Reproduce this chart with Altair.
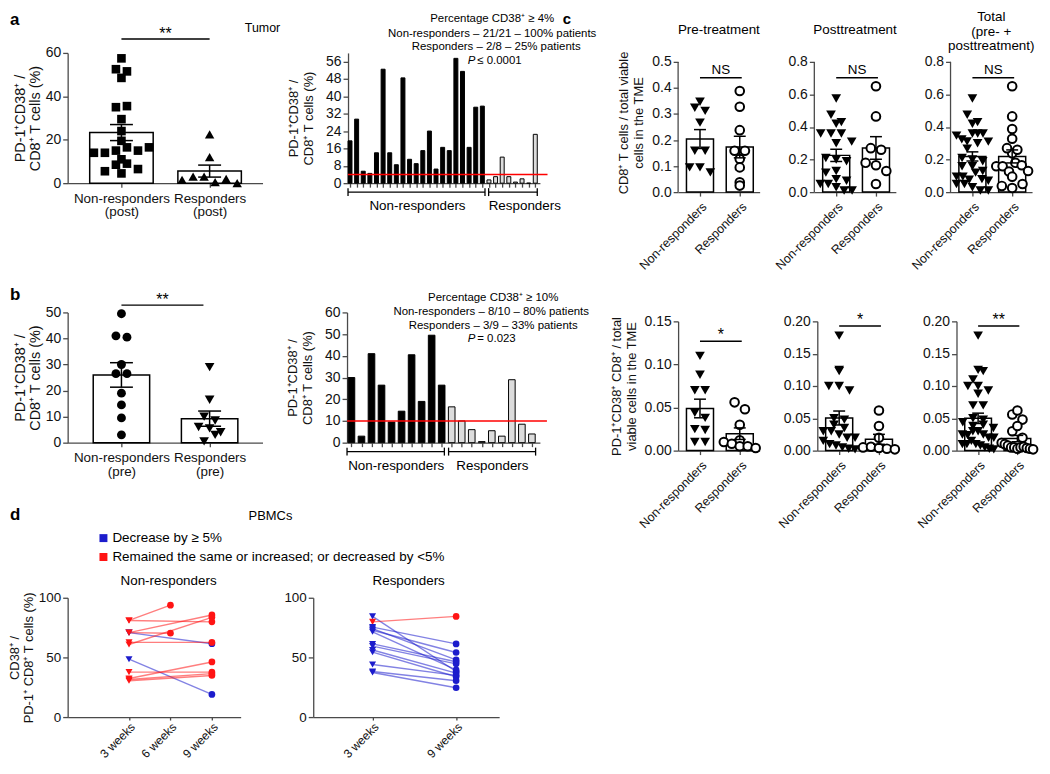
import json
import altair as alt
import pandas as pd

FONT = "Liberation Sans"
ONE = pd.DataFrame({"k": [0]})
P = "\u207a"  # superscript plus
AXIS_GREY = "#4a4a4a"

# ---------------- data ----------------
# a: PD-1+CD38+ / CD8+ T cells (%), tumour, post-treatment (per patient)
A_NONRESP = [19.5, 29.5, 5.5, 4.5, 14, 52.5, 14, 8.5, 48.5, 11, 9, 15, 24, 6.5, 16.5, 15, 57.5, 51.5, 16.5, 35, 35.5]
A_RESP = [1.5, 3, 12, 3, 0.5, 2, 0, 22.5]
# b: same, pre-treatment
B_NONRESP = [30, 3, 41, 26.5, 9.5, 14.5, 40.5, 19, 49.5, 26.5]
B_RESP = [16.5, 10, 6, 0.5, 5.5, 3, 29, 8.5, 4]
# c, top row: CD8+ T cells / total viable cells in the TME
CT_PRE_NONRESP = [0.347, 0.324, 0.312, 0.267, 0.159, 0.159, 0.095, 0.095, 0.076]
CT_PRE_RESP = [0.388, 0.328, 0.238, 0.159, 0.159, 0.127, 0.095, 0.038, 0.025]
CT_POST_NONRESP = [0.575, 0.475, 0.43, 0.42, 0.36, 0.36, 0.36, 0.31, 0.30, 0.21, 0.20,
                   0.19, 0.13, 0.12, 0.08, 0.07, 0.05, 0.05, 0.03, 0.01, 0.01]
CT_POST_RESP = [0.65, 0.465, 0.27, 0.26, 0.18, 0.165, 0.13, 0.05]
# c, bottom row: PD-1+CD38+CD8+ / total viable cells in the TME
CB_PRE_NONRESP = [0.11, 0.088, 0.07, 0.07, 0.044, 0.038, 0.025, 0.024, 0.01, 0.01]
CB_PRE_RESP = [0.056, 0.048, 0.03, 0.012, 0.01, 0.008, 0.005, 0.005, 0.003]
CB_POST_NONRESP = [0.178, 0.125, 0.123, 0.10, 0.10, 0.093, 0.05, 0.048, 0.04, 0.035, 0.03,
                   0.03, 0.025, 0.02, 0.02, 0.015, 0.01, 0.008, 0.005, 0.003, 0.002]
CB_POST_RESP = [0.062, 0.038, 0.02, 0.005, 0.006, 0.004, 0.003, 0.002]
# d: PBMCs, CD38+ / PD-1+CD8+ T cells (%)
D_NR_WEEK3 = [81, 81, 70.8, 70.8, 70.8, 62.6, 60.8, 48.5, 37.7, 32.3, 31.5, 30.5]
D_NR_LATER = [93.8, 79.8, 85.6, 61.5, 70.3, 62.6, 83.6, 19, 37.7, 46.2, 36.4, 34.9]
D_NR_LATER_WEEK = [6, 9, 9, 9, 6, 9, 9, 9, 9, 9, 9, 9]
D_NR_CLASS = ["inc", "inc", "inc", "dec", "inc", "inc", "inc", "dec", "inc", "inc", "inc", "inc"]
D_R_WEEK3 = [84.4, 79.8, 75.4, 74.1, 72.8, 71.5, 61.3, 59.5, 56.2, 54.4, 44.1, 38.2, 37.4]
D_R_WEEK9 = [38.2, 84.4, 61.3, 47.9, 54.1, 39.5, 46.4, 44.6, 36.9, 33.8, 35, 30.5, 24.6]
D_R_LATER_WEEK = [9] * 13
D_R_CLASS = ["dec", "inc"] + ["dec"] * 11

DEC = "Decrease by \u2265 5%"
INC = "Remained the same or increased; or decreased by <5%"


# ---------------- helpers ----------------
def txt(text, x, y, size=12.0, align="center", baseline="middle", weight="normal",
        style="normal", line_height=None):
    props = dict(text=text, font=FONT, fontSize=size, align=align, baseline=baseline,
                 fontWeight=weight, fontStyle=style, color="black")
    if line_height is not None:
        props["lineHeight"] = line_height
    return alt.Chart(ONE).mark_text(**props).encode(x=alt.value(x), y=alt.value(y))


def pin_box(left, right, top, bottom=None):
    """Invisible rules that pin the panel's bounding box (relative to the plot area)."""
    rules = [alt.Chart(ONE).mark_rule(opacity=0).encode(
        x=alt.value(left), x2=alt.value(right), y=alt.value(top))]
    if bottom is not None:
        rules.append(alt.Chart(ONE).mark_rule(opacity=0).encode(
            x=alt.value(left), x2=alt.value(right), y=alt.value(bottom)))
    return rules


def y_axis(values, title, title_size, title_pad, fmt=None, line_height=15, domain=True,
           label_size=14):
    kw = dict(values=values, title=title, titleFontSize=title_size, titlePadding=title_pad,
              titleLineHeight=line_height, tickSize=5, labelFontSize=label_size, labelPadding=2,
              grid=False, labelFlush=False, labelOverlap=False, domain=domain)
    if fmt:
        kw["format"] = fmt
    return alt.Axis(**kw)


def dot_panel(nonresp, resp, *, w, h, xdom, ydom, yvals, yfmt, ytitle, ytitle_size, ytitle_pad,
              xlabels, xangle, xlab_size, bar_half, cap_half, marks, ybin, xspace, maxhalf,
              sig, extras, box, ytop=None):
    df = pd.DataFrame({"g": [0] * len(nonresp) + [1] * len(resp),
                       "v": list(nonresp) + list(resp)})
    XS = alt.Scale(domain=xdom, nice=False, zero=False)
    YS = alt.Scale(domain=ydom, nice=False, zero=False)
    expr = f"datum.value == 0 ? {json.dumps(xlabels[0])} : {json.dumps(xlabels[1])}"
    if xangle == 0:
        xax = alt.Axis(values=[0, 1], labelExpr=expr, title=None, tickSize=4,
                       labelFontSize=xlab_size, labelPadding=4, labelAngle=0,
                       labelAlign="center", labelBaseline="top", labelLineHeight=14,
                       grid=False, labelFlush=False, labelOverlap=False)
    else:
        xax = alt.Axis(values=[0, 1], labelExpr=expr, title=None, tickSize=4,
                       labelFontSize=xlab_size, labelPadding=4, labelAngle=xangle,
                       labelAlign="right", labelBaseline="top", grid=False,
                       labelFlush=False, labelOverlap=False)
    yax = y_axis(yvals, ytitle, ytitle_size, ytitle_pad, yfmt, domain=(ytop is None))

    def X(f):
        return alt.X(f, scale=XS, axis=xax)

    def Y(f):
        return alt.Y(f, scale=YS, axis=yax)

    base = alt.Chart(df)
    stats = base.transform_aggregate(
        m="mean(v)", se="stderr(v)", groupby=["g"]
    ).transform_calculate(
        x0=f"datum.g - {bar_half}", x1=f"datum.g + {bar_half}",
        lo="datum.m - datum.se", hi="datum.m + datum.se",
        c0=f"datum.g - {cap_half}", c1=f"datum.g + {cap_half}")
    layers = [stats.mark_bar(fill="white", stroke="black", strokeWidth=1.5).encode(
        x=X("x0:Q"), x2="x1:Q", y=Y("m:Q"), y2=alt.Y2Datum(0))]
    if ytop is not None:
        # y-axis line that stops at the top tick (the plot area extends a little higher)
        layers.append(alt.Chart(ONE).mark_rule(color=AXIS_GREY, strokeWidth=1.3).encode(
            x=alt.value(0), y=alt.YDatum(0, scale=YS, axis=yax), y2=alt.Y2Datum(ytop)))
    pts = base.transform_calculate(
        b=f"floor(datum.v / {ybin})"
    ).transform_window(
        k="row_number()", groupby=["g", "b"]
    ).transform_joinaggregate(
        n="count()", groupby=["g", "b"]
    ).transform_calculate(
        jx=(f"datum.g + (datum.k - 1 - (datum.n - 1) / 2) * "
            f"min({xspace}, {maxhalf} / max(1, (datum.n - 1) / 2))"))
    for gi, mk in enumerate(marks):
        layers.append(pts.transform_filter(f"datum.g == {gi}").mark_point(**mk).encode(
            x=X("jx:Q"), y=Y("v:Q")))
    layers.append(stats.mark_rule(color="black", strokeWidth=1.5).encode(
        x=X("g:Q"), y=Y("lo:Q"), y2="hi:Q"))
    for end in ("lo", "hi"):
        layers.append(stats.mark_rule(color="black", strokeWidth=1.5).encode(
            x=X("c0:Q"), x2="c1:Q", y=Y(f"{end}:Q")))
    sx0, sx1, sy, stext, sdy, ssize = sig
    layers.append(alt.Chart(ONE).mark_rule(color="black", strokeWidth=1.5).encode(
        x=alt.XDatum(sx0, scale=XS, axis=xax), x2=alt.X2Datum(sx1),
        y=alt.YDatum(sy, scale=YS, axis=yax)))
    layers.append(alt.Chart(ONE).mark_text(text=stext, font=FONT, fontSize=ssize,
                                           baseline="alphabetic", dy=sdy).encode(
        x=alt.XDatum((sx0 + sx1) / 2, scale=XS, axis=xax),
        y=alt.YDatum(sy, scale=YS, axis=yax)))
    layers += extras
    layers += pin_box(*box)
    return alt.layer(*layers).properties(width=w, height=h)


def bar_panel(nonresp, resp, *, w, h, xdom, ydom, yvals, ytitle, thr, thr_end, bar_half,
              nr_bracket, r_bracket, nr_label_x, r_label_x, r_label_align, extras, box):
    n = len(nonresp)
    N = n + len(resp)
    df = pd.DataFrame({"i": list(range(N)), "v": list(nonresp) + list(resp),
                       "grp": ["Non-responders"] * n + ["Responders"] * len(resp)})
    XS = alt.Scale(domain=xdom, nice=False, zero=False)
    YS = alt.Scale(domain=ydom, nice=False, zero=False)
    xax = alt.Axis(values=list(range(N)), labels=False, title=None, tickSize=4, grid=False)
    yax = y_axis(yvals, ytitle, 13, 10)
    layers = [alt.Chart(df).transform_calculate(
        x0=f"datum.i - {bar_half}", x1=f"datum.i + {bar_half}"
    ).mark_bar(stroke="black", strokeWidth=1).encode(
        x=alt.X("x0:Q", scale=XS, axis=xax), x2="x1:Q",
        y=alt.Y("v:Q", scale=YS, axis=yax), y2=alt.Y2Datum(0),
        fill=alt.Fill("grp:N", scale=alt.Scale(domain=["Non-responders", "Responders"],
                                               range=["black", "#dcdcdc"]), legend=None))]
    layers.append(alt.Chart(ONE).mark_rule(color="#ff0000", strokeWidth=1.5).encode(
        x=alt.XDatum(xdom[0], scale=XS, axis=xax), x2=alt.X2Datum(thr_end),
        y=alt.YDatum(thr, scale=YS, axis=yax)))
    br = pd.DataFrame({"s": [nr_bracket[0], r_bracket[0]], "e": [nr_bracket[1], r_bracket[1]]})
    layers.append(alt.Chart(br).mark_rule(color="black", strokeWidth=1.3).encode(
        x=alt.X("s:Q", scale=XS, axis=xax), x2="e:Q", y=alt.value(h + 9)))
    ends = pd.DataFrame({"p": list(nr_bracket) + list(r_bracket)})
    layers.append(alt.Chart(ends).mark_rule(color="black", strokeWidth=1.3).encode(
        x=alt.X("p:Q", scale=XS, axis=xax), y=alt.value(h + 5), y2=alt.value(h + 13)))
    layers.append(alt.Chart(ONE).mark_text(text="Non-responders", font=FONT, fontSize=13.5,
                                           align="center", baseline="middle").encode(
        x=alt.XDatum(nr_label_x, scale=XS, axis=xax), y=alt.value(h + 23)))
    layers.append(alt.Chart(ONE).mark_text(text="Responders", font=FONT, fontSize=13.5,
                                           align=r_label_align, baseline="middle").encode(
        x=alt.XDatum(r_label_x, scale=XS, axis=xax), y=alt.value(h + 23)))
    layers += extras
    layers += pin_box(*box)
    return alt.layer(*layers).properties(width=w, height=h)


CS = alt.Scale(domain=[DEC, INC], range=["#1c1ccc", "#ff1414"])


def pbmc_panel(first, later, later_week, klass, *, w, h, xdom, xvals, ytitle, extras, box):
    rows = []
    for i, (a, b, wk, k) in enumerate(zip(first, later, later_week, klass)):
        cls = DEC if k == "dec" else INC
        rows.append({"pid": i, "wk": 3, "val": a, "cls": cls, "stage": "first"})
        rows.append({"pid": i, "wk": wk, "val": b, "cls": cls, "stage": "later"})
    df = pd.DataFrame(rows)
    XS = alt.Scale(domain=xdom, nice=False, zero=False)
    YS = alt.Scale(domain=[0, 100], nice=False)
    xax = alt.Axis(values=xvals, labelExpr="datum.value + ' weeks'", title=None, tickSize=3,
                   labelAngle=-45, labelAlign="right", labelBaseline="top", labelFontSize=12,
                   labelPadding=1, grid=False, labelFlush=False, labelOverlap=False)
    yax = y_axis([0, 50, 100], ytitle, 13, 3, line_height=14, label_size=13.5)
    X = alt.X("wk:Q", scale=XS, axis=xax)
    Y = alt.Y("val:Q", scale=YS, axis=yax)
    C = alt.Color("cls:N", scale=CS, legend=None)
    base = alt.Chart(df)
    lines = base.mark_line(strokeWidth=1.4, opacity=0.55).encode(x=X, y=Y, detail="pid:N", color=C)
    p1 = base.transform_filter("datum.stage == 'first'").mark_point(
        shape="triangle-down", filled=True, size=50, opacity=1).encode(x=X, y=Y, color=C)
    p2 = base.transform_filter("datum.stage == 'later'").mark_point(
        shape="circle", filled=True, size=45, opacity=1).encode(x=X, y=Y, color=C)
    layers = [lines, p1, p2] + extras + pin_box(*box)
    return alt.layer(*layers).properties(width=w, height=h)


BLACK_SQ = dict(shape="square", filled=True, size=75, color="black", opacity=1)
BLACK_TRI_UP = dict(shape="triangle-up", filled=True, size=90, color="black", opacity=1)
BLACK_CIRC = dict(shape="circle", filled=True, size=80, color="black", opacity=1)
BLACK_TRI_DN = dict(shape="triangle-down", filled=True, size=95, color="black", opacity=1)
OPEN_CIRC = dict(shape="circle", filled=True, fill="white", stroke="black", strokeWidth=2,
                 size=75, opacity=1)

YT_TUMOR = [f"PD-1{P}CD38{P} /", f"CD8{P} T cells (%)"]

# Layout (page px): left column plots start at x=66; a-row plots top at y=49.
# ---------------- panel a ----------------
aL = dot_panel(
    A_NONRESP, A_RESP, w=196, h=131, xdom=[-0.61, 1.6], ydom=[0, 60], yvals=[0, 20, 40, 60],
    yfmt=None, ytitle=YT_TUMOR, ytitle_size=14.5, ytitle_pad=3,
    xlabels=[["Non-responders", "(post)"], ["Responders", "(post)"]], xangle=0, xlab_size=13.5,
    bar_half=0.36, cap_half=0.13, marks=[BLACK_SQ, BLACK_TRI_UP], ybin=4.6, xspace=0.125,
    maxhalf=0.32, sig=(0, 1, 66.4, "**", 0, 16),
    extras=[txt("a", -58, -41, 17, align="left", baseline="top", weight="bold"),
            txt("Tumor", 196, -25, 12.5)],
    box=(-58, 196, -41, 181))

aR = bar_panel(
    A_NONRESP, A_RESP, w=193, h=131, xdom=[-0.3, 28.7], ydom=[0, 60],
    yvals=[0, 8, 16, 24, 32, 40, 48, 56], ytitle=YT_TUMOR, thr=4, thr_end=29.85, bar_half=0.3,
    nr_bracket=(-0.3, 20.4), r_bracket=(20.95, 28.3), nr_label_x=10.2, r_label_x=20.95,
    r_label_align="left",
    extras=[txt("c", 216, -41, 15, align="left", baseline="top", weight="bold"),
            txt(f"Percentage CD38{P} \u2265 4%", 145, -34, 11.5),
            txt("Non-responders \u2013 21/21 \u2013 100% patients", 145, -19, 11.5),
            txt("Responders \u2013 2/8 \u2013 25% patients", 149, -6, 11.5),
            txt("P", 128, 8, 11.5, align="right", style="italic"),
            txt("\u2264 0.0001", 130, 8, 11.5, align="left")],
    box=(0, 256, -41, 181))

# ---------------- panel b ----------------
bL = dot_panel(
    B_NONRESP, B_RESP, w=196, h=131, xdom=[-0.61, 1.6], ydom=[0, 50],
    yvals=[0, 10, 20, 30, 40, 50], yfmt=None, ytitle=YT_TUMOR, ytitle_size=14.5, ytitle_pad=3,
    xlabels=[["Non-responders", "(pre)"], ["Responders", "(pre)"]], xangle=0, xlab_size=13.5,
    bar_half=0.32, cap_half=0.13, marks=[BLACK_CIRC, BLACK_TRI_DN], ybin=3.8, xspace=0.125,
    maxhalf=0.32, sig=(0, 0.93, 52.8, "**", 0, 16),
    extras=[txt("b", -58, -25, 17, align="left", baseline="top", weight="bold")],
    box=(-58, 196, -80, 190))

bR = bar_panel(
    B_NONRESP, B_RESP, w=194, h=131, xdom=[-0.44, 18.8], ydom=[0, 60],
    yvals=[0, 10, 20, 30, 40, 50, 60], ytitle=YT_TUMOR, thr=10, thr_end=19.5, bar_half=0.33,
    nr_bracket=(-0.44, 9.27), r_bracket=(9.69, 18.37), nr_label_x=4.47, r_label_x=14.06,
    r_label_align="center",
    extras=[txt(f"Percentage CD38{P} \u2265 10%", 147, -14, 11.5),
            txt("Non-responders \u2013 8/10 \u2013 80% patients", 145, 0, 11.5),
            txt("Responders \u2013 3/9 \u2013 33% patients", 147, 14, 11.5),
            txt("P", 129, 27, 11.5, align="right", style="italic"),
            txt("= 0.023", 131, 27, 11.5, align="left")],
    box=(0, 257, -80, 190))

# ---------------- panel c ----------------
C_COMMON = dict(xdom=[-0.55, 1.5], xlabels=["Non-responders", "Responders"], xangle=-45,
                xlab_size=12.5, bar_half=0.34, cap_half=0.15, marks=[BLACK_TRI_DN, OPEN_CIRC],
                xspace=0.26, maxhalf=0.4, ytitle_size=13, ytitle_pad=6)
YT_CTOP = [f"CD8{P} T cells / total viable", "cells in the TME"]
YT_CBOT = [f"PD-1{P}CD38{P} CD8{P} / total", "viable cells in the TME"]
TOP_TICKS = [0, 0.2, 0.4, 0.6, 0.8]
BOT_TICKS = [0, 0.05, 0.10, 0.15, 0.20]

# top-row plot areas reach 9 px above the top tick so that they share the a-row origin
c1 = dot_panel(
    CT_PRE_NONRESP, CT_PRE_RESP, w=82, h=140, ydom=[0, 0.5344], ytop=0.5,
    yvals=[0, 0.1, 0.2, 0.3, 0.4, 0.5], yfmt=".1f", ytitle=YT_CTOP, ybin=0.038,
    sig=(0, 1.05, 0.439, "NS", -4, 13.5),
    extras=[txt("Pre-treatment", 41, -23, 13.5)],
    box=(-76, 82, -41, 241), **C_COMMON)
c2 = dot_panel(
    CT_POST_NONRESP, CT_POST_RESP, w=82, h=140, ydom=[0, 0.855], ytop=0.8, yvals=TOP_TICKS,
    yfmt=".1f", ytitle=None, ybin=0.061, sig=(0, 1.05, 0.702, "NS", -4, 13.5),
    extras=[txt("Posttreatment", 41, -23, 13.5)],
    box=(0, 82, -41, 241), **C_COMMON)
c3 = dot_panel(
    CT_PRE_NONRESP + CT_POST_NONRESP, CT_PRE_RESP + CT_POST_RESP, w=82, h=140,
    ydom=[0, 0.855], ytop=0.8, yvals=TOP_TICKS, yfmt=".1f", ytitle=None, ybin=0.061,
    sig=(0, 1.05, 0.702, "NS", -4, 13.5),
    extras=[txt(["Total", "(pre- +", "posttreatment)"], 41, -32, 13.5,
                baseline="alphabetic", line_height=14.5)],
    box=(0, 88, -41, 241), **C_COMMON)

c4 = dot_panel(
    CB_PRE_NONRESP, CB_PRE_RESP, w=82, h=130, ydom=[0, 0.15], yvals=[0, 0.05, 0.10, 0.15],
    yfmt=".2f", ytitle=YT_CBOT, ybin=0.0115, sig=(0, 1.05, 0.127, "*", -1, 16),
    extras=[], box=(-76, 82, -29), **C_COMMON)
c5 = dot_panel(
    CB_POST_NONRESP, CB_POST_RESP, w=82, h=130, ydom=[0, 0.2], yvals=BOT_TICKS, yfmt=".2f",
    ytitle=None, ybin=0.0154, sig=(0, 1.05, 0.193, "*", -1, 16),
    extras=[], box=(0, 82, -29), **C_COMMON)
c6 = dot_panel(
    CB_PRE_NONRESP + CB_POST_NONRESP, CB_PRE_RESP + CB_POST_RESP, w=81, h=130, ydom=[0, 0.2],
    yvals=BOT_TICKS, yfmt=".2f", ytitle=None, ybin=0.0154, sig=(0, 1.05, 0.193, "**", -1, 16),
    extras=[], box=(0, 81, -29), **C_COMMON)

# ---------------- panel d ----------------
LEG_DF = pd.DataFrame({"cls": [DEC, INC]})
LEG_Y = alt.Y("cls:N", scale=alt.Scale(domain=[DEC, INC], range=[37, 56], padding=0), axis=None)
dHead = alt.layer(
    alt.Chart(LEG_DF).mark_square(size=64, opacity=1).encode(
        x=alt.value(36), y=LEG_Y, color=alt.Color("cls:N", scale=CS, legend=None)),
    alt.Chart(LEG_DF).mark_text(font=FONT, fontSize=13.5, align="left", baseline="middle",
                                color="black").encode(x=alt.value(45), y=LEG_Y, text="cls:N"),
    txt("d", -58, 6, 17, align="left", baseline="top", weight="bold"),
    txt("PBMCs", 204, 15, 13),
    *pin_box(-58, 538, 0, 60)
).properties(width=538, height=60)

dL = pbmc_panel(
    D_NR_WEEK3, D_NR_LATER, D_NR_LATER_WEEK, D_NR_CLASS, w=174, h=120, xdom=[-1.44, 11.08],
    xvals=[3, 6, 9], ytitle=[f"CD38{P} /", f"PD-1{P} CD8{P} T cells (%)"],
    extras=[txt("Non-responders", 101.5, -17, 13.5)],
    box=(-58, 174, -34))
dR = pbmc_panel(
    D_R_WEEK3, D_R_WEEK9, D_R_LATER_WEEK, D_R_CLASS, w=187, h=120, xdom=[-1.26, 12.09],
    xvals=[3, 9], ytitle=None,
    extras=[txt("Responders", 96, -17, 13.5)],
    box=(0, 291, -34))


def indep(c):
    return c.resolve_scale(x="independent", y="independent", color="independent",
                           fill="independent")


AROW = indep(alt.hconcat(aL, aR, spacing=86, bounds="flush"))
BROW = indep(alt.hconcat(bL, bR, spacing=85, bounds="flush"))
DROW = indep(alt.hconcat(dL, dR, spacing=73, bounds="flush"))
LEFT = indep(alt.vconcat(AROW, BROW, dHead, DROW, spacing=0))
CTOP = indep(alt.hconcat(c1, c2, c3, spacing=55, bounds="flush"))
CBOT = indep(alt.hconcat(c4, c5, c6, spacing=58, bounds="flush"))
RIGHT = indep(alt.vconcat(CTOP, CBOT, spacing=0))

chart = indep(alt.hconcat(LEFT, RIGHT, spacing=0)).properties(padding=0)
chart = chart.configure(font=FONT).configure_view(stroke=None).configure_axis(
    domainColor=AXIS_GREY, tickColor=AXIS_GREY, domainWidth=1.3, tickWidth=1.3,
    labelColor="#111111", titleColor="#111111", labelFont=FONT, titleFont=FONT,
    titleFontWeight="normal", grid=False
)

chart.save("out.html", embed_options={"renderer": "svg", "actions": False})
